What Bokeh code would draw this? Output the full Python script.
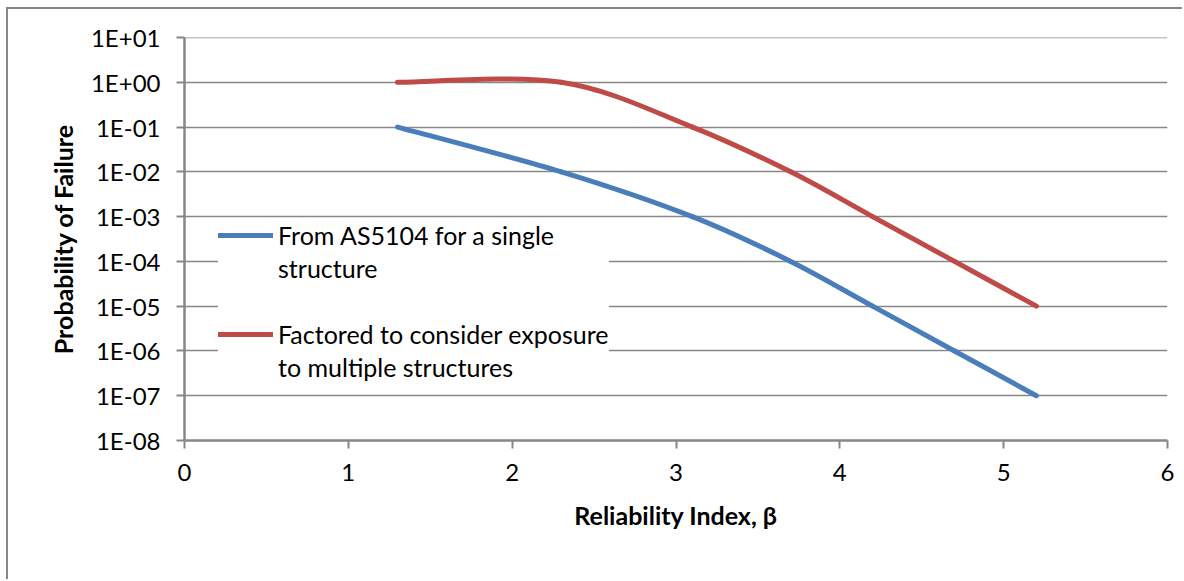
import numpy as np
from bokeh.plotting import figure
from bokeh.models import (Range1d, FixedTicker, Legend, LegendItem,
                          ColumnDataSource, Span)
from bokeh.embed import file_html
from bokeh.resources import INLINE

# Reliability index vs probability of failure
beta_single = [1.3, 2.3, 3.1, 3.7, 4.2, 4.7, 5.2]
pf_single = [1e-1, 1e-2, 1e-3, 1e-4, 1e-5, 1e-6, 1e-7]

beta_multi = [1.3, 2.3, 3.1, 3.7, 4.2, 4.7, 5.2]
pf_multi = [1e0, 1e0, 1e-1, 1e-2, 1e-3, 1e-4, 1e-5]

# legend text, one entry per printed line
single_label_lines = ["From AS5104 for a single", "structure"]
multi_label_lines = ["Factored to consider exposure", "to multiple structures"]

x_ticks = [0, 1, 2, 3, 4, 5, 6]
y_ticks = [1e1, 1e0, 1e-1, 1e-2, 1e-3, 1e-4, 1e-5, 1e-6, 1e-7, 1e-8]
y_tick_labels = ["1E+01", "1E+00", "1E-01", "1E-02", "1E-03",
                 "1E-04", "1E-05", "1E-06", "1E-07", "1E-08"]

BLUE = "#4A7EBB"
RED = "#BE4B48"
GREY = "#878787"
FONT = "Lato"


def smooth_segments(xs, ys):
    """Cubic Bezier segments (Catmull-Rom style) through the points,
    built in (x, log10 y) space so the curve is smooth on the log axis."""
    lx = np.asarray(xs, dtype=float)
    ly = np.log10(np.asarray(ys, dtype=float))
    px = np.concatenate([[lx[0]], lx, [lx[-1]]])
    py = np.concatenate([[ly[0]], ly, [ly[-1]]])
    seg = dict(x0=[], y0=[], x1=[], y1=[], cx0=[], cy0=[], cx1=[], cy1=[])
    for i in range(len(lx) - 1):
        a, b, c, d = i, i + 1, i + 2, i + 3
        seg["x0"].append(px[b])
        seg["y0"].append(10 ** py[b])
        seg["x1"].append(px[c])
        seg["y1"].append(10 ** py[c])
        seg["cx0"].append(px[b] + (px[c] - px[a]) / 6.0)
        seg["cy0"].append(10 ** (py[b] + (py[c] - py[a]) / 6.0))
        seg["cx1"].append(px[c] - (px[d] - px[b]) / 6.0)
        seg["cy1"].append(10 ** (py[c] - (py[d] - py[b]) / 6.0))
    return ColumnDataSource(seg)


p = figure(
    width=1176, height=572,
    x_range=Range1d(0, 6), y_range=Range1d(1e-8, 1e1),
    y_axis_type="log",
    output_backend="svg", toolbar_location=None,
    min_border_left=176, min_border_right=17,
    min_border_top=28, min_border_bottom=141,
)
p.styles = {
    "position": "absolute", "left": "6px", "top": "7px",
    "border-left": f"2px solid {GREY}", "border-top": f"2px solid {GREY}",
}
p.outline_line_color = None
p.background_fill_color = "white"
p.border_fill_color = "white"

# axes
p.xaxis.ticker = FixedTicker(ticks=x_ticks)
p.yaxis.ticker = FixedTicker(ticks=y_ticks)
p.yaxis.major_label_overrides = dict(zip(y_ticks, y_tick_labels))
for ax in (p.xaxis[0], p.yaxis[0]):
    ax.axis_line_color = GREY
    ax.axis_line_width = 2.5
    ax.major_tick_line_color = GREY
    ax.major_tick_line_width = 2
    ax.major_tick_in = 0
    ax.major_tick_out = 8
    ax.minor_tick_line_color = None
    ax.major_label_text_font = FONT
    ax.major_label_text_font_size = "24px"
    ax.major_label_text_color = "black"
    ax.axis_label_text_font = FONT
    ax.axis_label_text_font_size = "25px"
    ax.axis_label_text_font_style = "bold"
    ax.axis_label_text_color = "black"

p.xaxis.axis_label = "Reliability Index, β"
p.yaxis.axis_label = "Probability of Failure"
p.xaxis.major_label_standoff = 15
p.yaxis.major_label_standoff = 16
p.xaxis.axis_label_standoff = 16
p.yaxis.axis_label_standoff = 10

p.xgrid.grid_line_color = None
p.ygrid.grid_line_color = GREY
p.ygrid.grid_line_width = 1.6
# gridline along the top of the range
p.add_layout(Span(location=y_ticks[0], dimension="width",
                  line_color=GREY, line_width=1.6))

r_single = p.bezier("x0", "y0", "x1", "y1", "cx0", "cy0", "cx1", "cy1",
                    source=smooth_segments(beta_single, pf_single),
                    line_color=BLUE, line_width=5, line_cap="round")
r_multi = p.bezier("x0", "y0", "x1", "y1", "cx0", "cy0", "cx1", "cy1",
                   source=smooth_segments(beta_multi, pf_multi),
                   line_color=RED, line_width=5, line_cap="round")
# invisible renderer used for the continuation lines of the legend text
r_blank = p.line([], [], line_alpha=0)

legend = Legend(
    items=[LegendItem(label=single_label_lines[0], renderers=[r_single]),
           LegendItem(label=single_label_lines[1], renderers=[r_blank]),
           LegendItem(label=" ", renderers=[r_blank]),
           LegendItem(label=multi_label_lines[0], renderers=[r_multi]),
           LegendItem(label=multi_label_lines[1], renderers=[r_blank])],
    location=(34, 57),
    background_fill_color="white", background_fill_alpha=1.0,
    border_line_color=None,
    label_text_font=FONT, label_text_font_size="25px",
    label_text_color="black",
    glyph_width=55, glyph_height=20, label_height=33,
    label_standoff=5, padding=24, spacing=0,
)
p.add_layout(legend)

open("out.html", "w").write(file_html(p, INLINE))
